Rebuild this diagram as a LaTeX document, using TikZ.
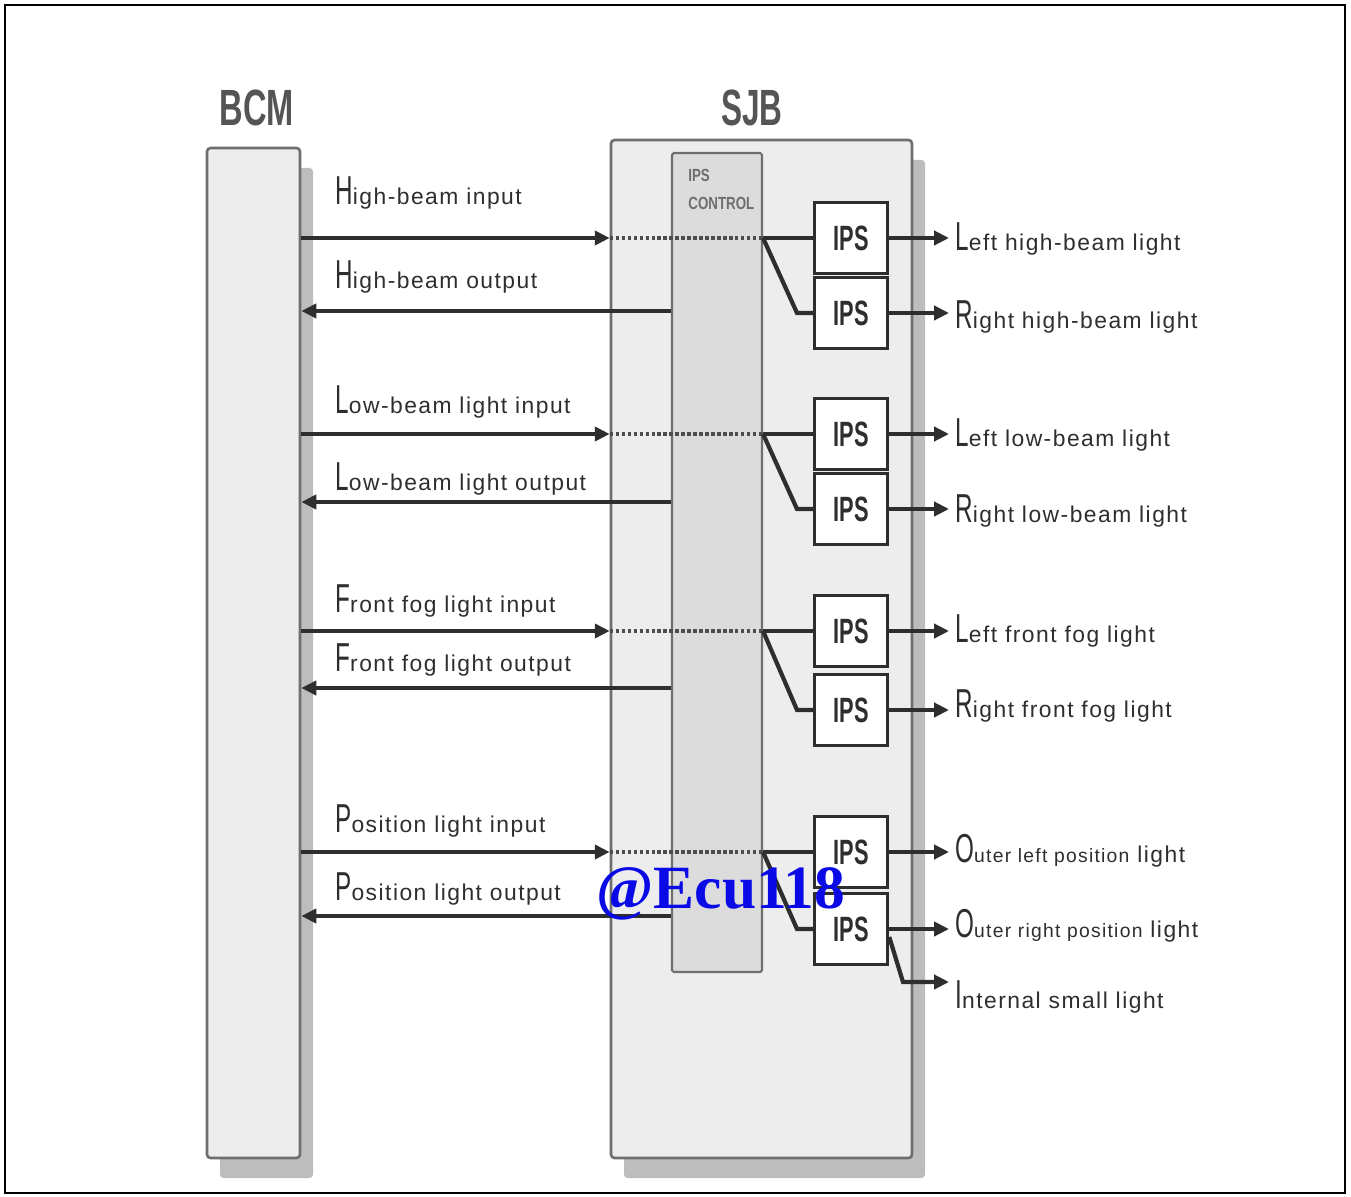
\documentclass[tikz,border=0pt]{standalone}
\usepackage{fontspec}
\setmainfont{Liberation Sans}
\newfontfamily\lblfont[LetterSpace=6.5]{Liberation Sans}
\newfontfamily\wmfont{Liberation Serif}
\usepackage{graphicx}
\usetikzlibrary{arrows.meta,fit,shadows}

\definecolor{boxfill}{HTML}{EDEDED}
\definecolor{ctrlfill}{HTML}{DCDCDC}
\definecolor{edgegray}{HTML}{6E6E6E}
\definecolor{shade}{HTML}{BDBDBD}
\definecolor{ink}{HTML}{2E2E2E}
\definecolor{titlegray}{HTML}{555555}
\definecolor{wmblue}{HTML}{0A0AE6}

% tall thin first letter, then the rest of the label
\newcommand{\lbl}[2]{\scalebox{0.6}[1]{\fontsize{23}{23}\selectfont #1}#2}
\newcommand{\lblsmall}[1]{{\fontsize{11}{13}\selectfont #1}}
\newcommand{\ips}{\scalebox{0.62}[1]{IPS}}

\tikzset{
  unit/.style={draw=edgegray, line width=1.5pt, fill=boxfill, rounded corners=2pt, inner sep=0pt,
    general shadow={fill=shade, shadow xshift=0.26cm, shadow yshift=-0.4cm}},
  ctrlbox/.style={draw=edgegray, line width=1.2pt, fill=ctrlfill, rounded corners=1pt, inner sep=0pt},
  ipsbox/.style={draw=ink, line width=2pt, fill=white, minimum width=1.46cm, minimum height=1.42cm,
    inner sep=0pt, text=ink, font=\bfseries\fontsize{20}{20}\selectfont},
  title/.style={text=titlegray, font=\bfseries\fontsize{29}{29}\selectfont},
  lbltext/.style={anchor=base west, inner sep=0pt, text=ink, font=\lblfont\fontsize{13}{15}\selectfont},
  wire/.style={draw=ink, line width=2.4pt},
  sig/.style={wire, -{Triangle[length=8.5pt,width=8pt]}},
  dots/.style={draw=ink!85, line width=2.8pt, dash pattern=on 1.9pt off 1.5pt},
}

\begin{document}
\begin{tikzpicture}[x=0.02cm, y=-0.02cm]
\useasboundingbox (0,0) rectangle (1351,1196);
\draw[line width=1.2pt] (5,5) rectangle (1345,1193);

\node[unit, fit={(207,148) (300,1158)}] (bcm) {};
\node[unit, fit={(611,140) (912,1158)}] (sjb) {};
\node[ctrlbox, fit={(672,153) (762,972)}] (ctrl) {};

\node[title] (bcmtitle) at (257,108) {\scalebox{0.64}[1]{BCM}};
\node[title] (sjbtitle) at (752,108) {\scalebox{0.62}[1]{SJB}};
\node[anchor=base west, inner sep=0pt, text=edgegray, font=\bfseries\fontsize{10}{10}\selectfont]
  (ctrltop) at (688,182) {\scalebox{0.76}[1]{IPS}};
\node[anchor=base west, inner sep=0pt, text=edgegray, font=\bfseries\fontsize{10}{10}\selectfont]
  (ctrlbot) at (688,210) {\scalebox{0.76}[1]{CONTROL}};

\coordinate (tipR) at (949,0);

\foreach \r/\yi/\yo/\yb in {h/238/311/313, l/434/502/509, f/631/688/710, p/852/916/929} {
  \node[ipsbox] (\r1) at (851,\yi) {\ips};
  \node[ipsbox] (\r2) at (851,\yb) {\ips};
  \coordinate (\r-in) at (300,\yi);
  \coordinate (\r-out) at (300,\yo);
  \coordinate (\r-bend) at (797,\yb);
  \draw[sig] (bcm.east |- \r-in) -- (sjb.west |- \r-in);
  \draw[dots] (sjb.west |- \r-in) -- (ctrl.east |- \r-in);
  \draw[wire] (ctrl.east |- \r-in) -- (\r1.west);
  \draw[wire] (ctrl.east |- \r-in) -- (\r-bend) -- (\r2.west);
  \draw[sig] (ctrl.west |- \r-out) -- (bcm.east |- \r-out);
  \draw[sig] (\r1.east) -- (\r1.east -| tipR);
  \draw[sig] (\r2.east) -- (\r2.east -| tipR);
}
\coordinate (isl-bend) at (903,982);
\draw[sig] ([yshift=-0.16cm]p2.east) -- (isl-bend) -- (isl-bend -| tipR);

% BCM side labels
\node[lbltext] (hi) at (335,205) {\lbl{H}{igh-beam input}};
\node[lbltext] (ho) at (335,288) {\lbl{H}{igh-beam output}};
\node[lbltext] (li) at (335,413) {\lbl{L}{ow-beam light input}};
\node[lbltext] (lo) at (335,490) {\lbl{L}{ow-beam light output}};
\node[lbltext] (fi) at (335,612) {\lbl{F}{ront fog light input}};
\node[lbltext] (fo) at (335,671) {\lbl{F}{ront fog light output}};
\node[lbltext] (pi) at (335,832) {\lbl{P}{osition light input}};
\node[lbltext] (po) at (335,900) {\lbl{P}{osition light output}};

% lamp labels
\node[lbltext] (lhb) at (955,250) {\lbl{L}{eft high-beam light}};
\node[lbltext] (rhb) at (955,328) {\lbl{R}{ight high-beam light}};
\node[lbltext] (llb) at (955,446) {\lbl{L}{eft low-beam light}};
\node[lbltext] (rlb) at (955,522) {\lbl{R}{ight low-beam light}};
\node[lbltext] (lff) at (955,642) {\lbl{L}{eft front fog light}};
\node[lbltext] (rff) at (955,717) {\lbl{R}{ight front fog light}};
\node[lbltext] (olp) at (955,862) {\lbl{O}{\lblsmall{uter left position} light}};
\node[lbltext] (orp) at (955,937) {\lbl{O}{\lblsmall{uter right position} light}};
\node[lbltext] (isl) at (955,1008) {\lbl{I}{nternal small light}};

\node[anchor=base, inner sep=0pt, text=wmblue, font=\wmfont\bfseries\fontsize{35}{35}\selectfont]
  (wm) at (721,908) {@Ecu118};
\end{tikzpicture}
\end{document}
